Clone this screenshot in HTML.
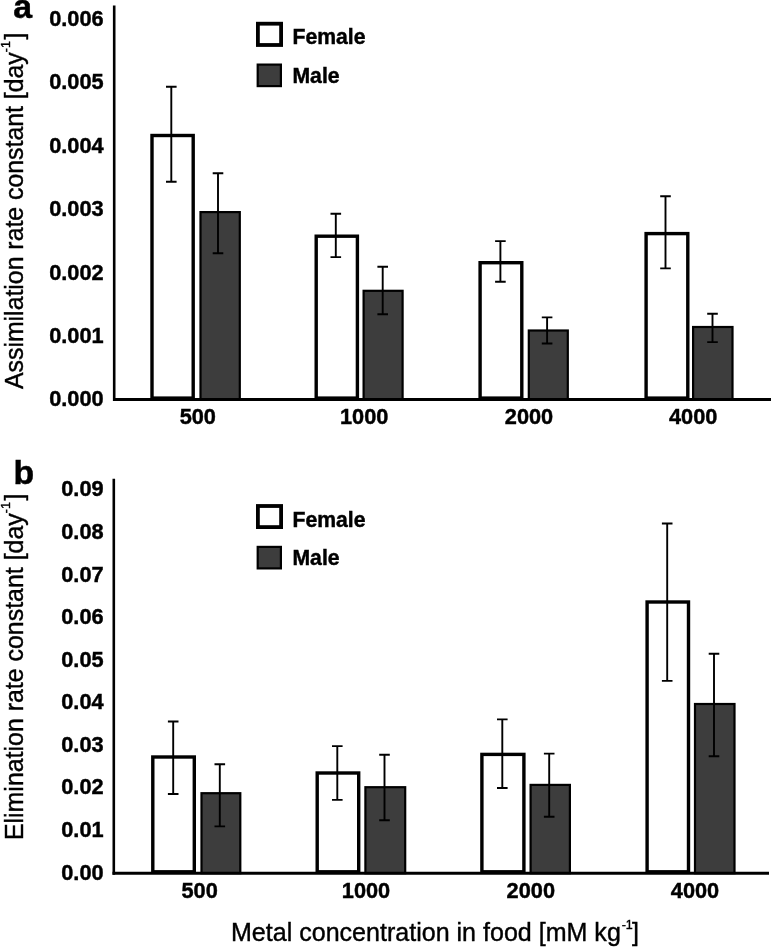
<!DOCTYPE html>
<html><head><meta charset="utf-8"><title>Figure</title>
<style>
html,body{margin:0;padding:0;background:#fff;}
body{width:771px;height:947px;overflow:hidden;}
svg{display:block;filter:blur(0.45px);}
text{font-family:"Liberation Sans",Arial,Helvetica,sans-serif;fill:#000;}
.b21{font-size:22.8px;font-weight:bold;stroke:#000;stroke-width:0.45px;}
.b35{font-size:33.8px;font-weight:bold;stroke:#000;stroke-width:0.5px;}
.r24{font-size:25px;stroke:#000;stroke-width:0.4px;}
.bl{font-size:21.6px;font-weight:bold;stroke:#000;stroke-width:0.45px;}
.sup{font-size:12.5px;}
</style></head><body>
<svg width="771" height="947" viewBox="0 0 771 947">
<rect width="771" height="947" fill="#fff"/>
<!-- panel a -->
<text x="13.2" y="18.0" class="b35">a</text>
<text transform="translate(22.8 389.0) rotate(-90) scale(0.994 1)" class="r24">Assimilation rate constant [day<tspan class="sup" dy="-12.7">-1</tspan><tspan dy="12.7" dx="1.8">]</tspan></text>
<text transform="translate(103.6 406.30) scale(0.955 1)" text-anchor="end" class="b21">0.000</text>
<text transform="translate(103.6 342.92) scale(0.955 1)" text-anchor="end" class="b21">0.001</text>
<text transform="translate(103.6 279.54) scale(0.955 1)" text-anchor="end" class="b21">0.002</text>
<text transform="translate(103.6 216.16) scale(0.955 1)" text-anchor="end" class="b21">0.003</text>
<text transform="translate(103.6 152.78) scale(0.955 1)" text-anchor="end" class="b21">0.004</text>
<text transform="translate(103.6 89.40) scale(0.955 1)" text-anchor="end" class="b21">0.005</text>
<text transform="translate(103.6 26.02) scale(0.955 1)" text-anchor="end" class="b21">0.006</text>
<rect x="152.00" y="135.50" width="41.20" height="262.60" fill="#fff" stroke="#000" stroke-width="3.4"/>
<rect x="200.50" y="212.10" width="39.30" height="187.40" fill="#3d3d3d" stroke="#000" stroke-width="2.2"/>
<path d="M171.30 86.00V182.50M166.00 86.70H176.60M166.00 181.80H176.60" stroke="#000" stroke-width="1.9" fill="none"/>
<path d="M218.00 172.60V254.00M212.70 173.30H223.30M212.70 253.30H223.30" stroke="#000" stroke-width="1.9" fill="none"/>
<rect x="316.20" y="236.20" width="41.20" height="161.90" fill="#fff" stroke="#000" stroke-width="3.4"/>
<rect x="363.60" y="290.80" width="39.00" height="108.70" fill="#3d3d3d" stroke="#000" stroke-width="2.2"/>
<path d="M335.80 213.00V257.80M330.50 213.70H341.10M330.50 257.10H341.10" stroke="#000" stroke-width="1.9" fill="none"/>
<path d="M382.70 266.00V315.00M377.40 266.70H388.00M377.40 314.30H388.00" stroke="#000" stroke-width="1.9" fill="none"/>
<rect x="480.10" y="262.70" width="41.70" height="135.40" fill="#fff" stroke="#000" stroke-width="3.4"/>
<rect x="528.80" y="330.50" width="39.00" height="69.00" fill="#3d3d3d" stroke="#000" stroke-width="2.2"/>
<path d="M500.40 240.40V282.50M495.10 241.10H505.70M495.10 281.80H505.70" stroke="#000" stroke-width="1.9" fill="none"/>
<path d="M547.10 316.70V344.20M541.80 317.40H552.40M541.80 343.50H552.40" stroke="#000" stroke-width="1.9" fill="none"/>
<rect x="646.10" y="233.60" width="41.70" height="164.50" fill="#fff" stroke="#000" stroke-width="3.4"/>
<rect x="693.10" y="327.00" width="39.40" height="72.50" fill="#3d3d3d" stroke="#000" stroke-width="2.2"/>
<path d="M665.50 195.50V269.10M660.20 196.20H670.80M660.20 268.40H670.80" stroke="#000" stroke-width="1.9" fill="none"/>
<path d="M712.50 313.00V342.80M707.20 313.70H717.80M707.20 342.10H717.80" stroke="#000" stroke-width="1.9" fill="none"/>
<path d="M114.2 5.5V401.0" stroke="#000" stroke-width="2.6" fill="none"/>
<path d="M113.2 399.5H771" stroke="#000" stroke-width="3" fill="none"/>
<text transform="translate(197.8 424.2) scale(0.955 1)" text-anchor="middle" class="b21">500</text>
<text transform="translate(364.2 424.2) scale(0.955 1)" text-anchor="middle" class="b21">1000</text>
<text transform="translate(529.0 424.2) scale(0.955 1)" text-anchor="middle" class="b21">2000</text>
<text transform="translate(693.2 424.2) scale(0.955 1)" text-anchor="middle" class="b21">4000</text>
<rect x="257.9" y="23.7" width="23.2" height="21.3" fill="#fff" stroke="#000" stroke-width="3.8"/>
<rect x="257.7" y="64.6" width="23.2" height="21.5" fill="#3d3d3d" stroke="#000" stroke-width="2.2"/>
<text transform="translate(292.5 44.3) scale(0.98 1)" class="bl">Female</text>
<text transform="translate(292.5 82.6) scale(0.98 1)" class="bl">Male</text>
<!-- panel b -->
<text x="13.6" y="483.8" class="b35">b</text>
<text transform="translate(22.7 840.1) rotate(-90) scale(0.997 1)" class="r24">Elimination rate constant [day<tspan class="sup" dy="-12.7">-1</tspan><tspan dy="12.7" dx="1.8">]</tspan></text>
<text transform="translate(103.6 879.60) scale(0.955 1)" text-anchor="end" class="b21">0.00</text>
<text transform="translate(103.6 837.02) scale(0.955 1)" text-anchor="end" class="b21">0.01</text>
<text transform="translate(103.6 794.44) scale(0.955 1)" text-anchor="end" class="b21">0.02</text>
<text transform="translate(103.6 751.86) scale(0.955 1)" text-anchor="end" class="b21">0.03</text>
<text transform="translate(103.6 709.28) scale(0.955 1)" text-anchor="end" class="b21">0.04</text>
<text transform="translate(103.6 666.70) scale(0.955 1)" text-anchor="end" class="b21">0.05</text>
<text transform="translate(103.6 624.12) scale(0.955 1)" text-anchor="end" class="b21">0.06</text>
<text transform="translate(103.6 581.54) scale(0.955 1)" text-anchor="end" class="b21">0.07</text>
<text transform="translate(103.6 538.96) scale(0.955 1)" text-anchor="end" class="b21">0.08</text>
<text transform="translate(103.6 496.38) scale(0.955 1)" text-anchor="end" class="b21">0.09</text>
<rect x="152.80" y="757.00" width="41.50" height="114.80" fill="#fff" stroke="#000" stroke-width="3.4"/>
<rect x="201.50" y="793.20" width="38.80" height="80.00" fill="#3d3d3d" stroke="#000" stroke-width="2.2"/>
<path d="M173.20 720.80V794.70M167.90 721.50H178.50M167.90 794.00H178.50" stroke="#000" stroke-width="1.9" fill="none"/>
<path d="M219.80 763.60V827.10M214.50 764.30H225.10M214.50 826.40H225.10" stroke="#000" stroke-width="1.9" fill="none"/>
<rect x="317.20" y="773.00" width="41.50" height="98.80" fill="#fff" stroke="#000" stroke-width="3.4"/>
<rect x="365.40" y="787.20" width="39.80" height="86.00" fill="#3d3d3d" stroke="#000" stroke-width="2.2"/>
<path d="M337.30 745.40V800.60M332.00 746.10H342.60M332.00 799.90H342.60" stroke="#000" stroke-width="1.9" fill="none"/>
<path d="M384.50 754.00V820.90M379.20 754.70H389.80M379.20 820.20H389.80" stroke="#000" stroke-width="1.9" fill="none"/>
<rect x="481.90" y="754.40" width="42.00" height="117.40" fill="#fff" stroke="#000" stroke-width="3.4"/>
<rect x="530.60" y="784.90" width="39.30" height="88.30" fill="#3d3d3d" stroke="#000" stroke-width="2.2"/>
<path d="M502.30 718.70V788.70M497.00 719.40H507.60M497.00 788.00H507.60" stroke="#000" stroke-width="1.9" fill="none"/>
<path d="M549.20 752.90V817.50M543.90 753.60H554.50M543.90 816.80H554.50" stroke="#000" stroke-width="1.9" fill="none"/>
<rect x="647.10" y="602.00" width="41.40" height="269.80" fill="#fff" stroke="#000" stroke-width="3.4"/>
<rect x="695.00" y="704.00" width="39.50" height="169.20" fill="#3d3d3d" stroke="#000" stroke-width="2.2"/>
<path d="M667.20 522.80V681.60M661.90 523.50H672.50M661.90 680.90H672.50" stroke="#000" stroke-width="1.9" fill="none"/>
<path d="M714.00 653.10V756.90M708.70 653.80H719.30M708.70 756.20H719.30" stroke="#000" stroke-width="1.9" fill="none"/>
<path d="M113.8 478.7V874.7" stroke="#000" stroke-width="2.6" fill="none"/>
<path d="M112.5 873.2H769" stroke="#000" stroke-width="3" fill="none"/>
<text transform="translate(199.60000000000002 898.0) scale(0.955 1)" text-anchor="middle" class="b21">500</text>
<text transform="translate(366.0 898.0) scale(0.955 1)" text-anchor="middle" class="b21">1000</text>
<text transform="translate(530.8 898.0) scale(0.955 1)" text-anchor="middle" class="b21">2000</text>
<text transform="translate(695.0 898.0) scale(0.955 1)" text-anchor="middle" class="b21">4000</text>
<rect x="257.9" y="506.0" width="23.2" height="21.1" fill="#fff" stroke="#000" stroke-width="3.8"/>
<rect x="257.7" y="546.9" width="23.2" height="21.5" fill="#3d3d3d" stroke="#000" stroke-width="2.2"/>
<text transform="translate(292.5 526.6) scale(0.98 1)" class="bl">Female</text>
<text transform="translate(292.5 564.9) scale(0.98 1)" class="bl">Male</text>
<text transform="translate(231.0 941.4) scale(1.0026 1)" class="r24">Metal concentration in food [mM kg<tspan class="sup" dy="-12.7" dx="0.8">-1</tspan><tspan dy="12.7" dx="-0.7">]</tspan></text>
</svg>
</body></html>
